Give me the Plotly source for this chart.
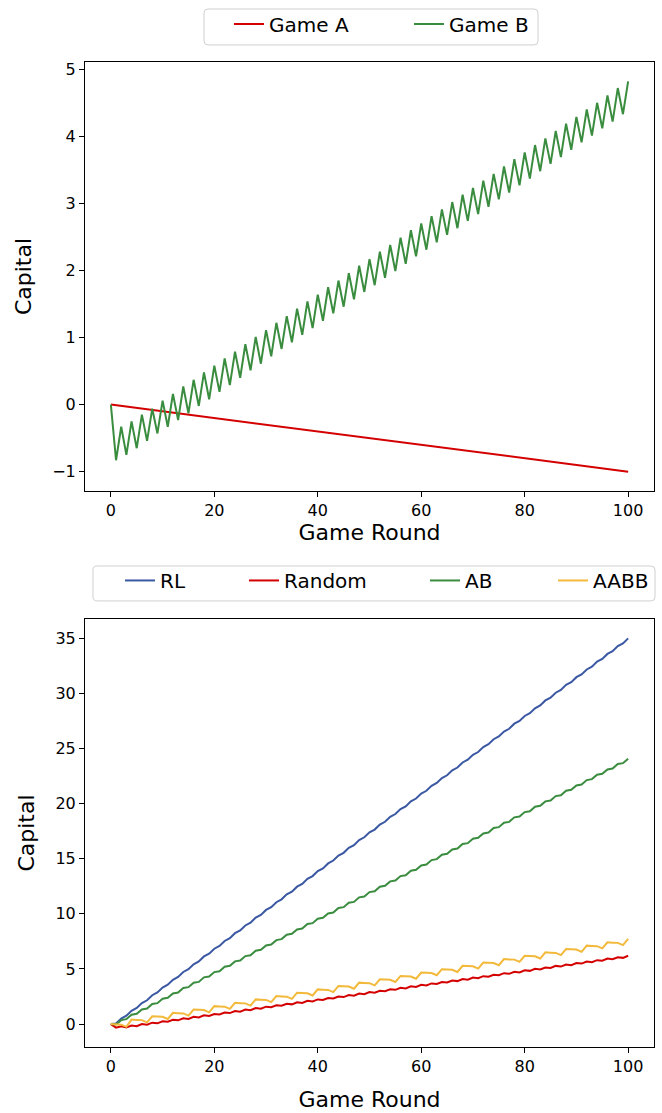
import plotly.graph_objects as go

rounds = list(range(101))

game_a = [0.00, -0.01, -0.02, -0.03, -0.04, -0.05, -0.06, -0.07, -0.08, -0.09,
          -0.10, -0.11, -0.12, -0.13, -0.14, -0.15, -0.16, -0.17, -0.18, -0.19,
          -0.20, -0.21, -0.22, -0.23, -0.24, -0.25, -0.26, -0.27, -0.28, -0.29,
          -0.30, -0.31, -0.32, -0.33, -0.34, -0.35, -0.36, -0.37, -0.38, -0.39,
          -0.40, -0.41, -0.42, -0.43, -0.44, -0.45, -0.46, -0.47, -0.48, -0.49,
          -0.50, -0.51, -0.52, -0.53, -0.54, -0.55, -0.56, -0.57, -0.58, -0.59,
          -0.60, -0.61, -0.62, -0.63, -0.64, -0.65, -0.66, -0.67, -0.68, -0.69,
          -0.70, -0.71, -0.72, -0.73, -0.74, -0.75, -0.76, -0.77, -0.78, -0.79,
          -0.80, -0.81, -0.82, -0.83, -0.84, -0.85, -0.86, -0.87, -0.88, -0.89,
          -0.90, -0.91, -0.92, -0.93, -0.94, -0.95, -0.96, -0.97, -0.98, -0.99,
          -1.00]

game_b = [0.00, -0.83, -0.33, -0.75, -0.25, -0.65, -0.15, -0.54, -0.06, -0.43,
          0.06, -0.33, 0.16, -0.23, 0.27, -0.13, 0.37, -0.02, 0.48, 0.08,
          0.58, 0.19, 0.69, 0.29, 0.79, 0.40, 0.90, 0.51, 1.01, 0.61,
          1.11, 0.72, 1.22, 0.83, 1.32, 0.93, 1.43, 1.04, 1.54, 1.14,
          1.64, 1.25, 1.75, 1.36, 1.85, 1.46, 1.96, 1.57, 2.07, 1.68,
          2.17, 1.78, 2.28, 1.89, 2.38, 1.99, 2.49, 2.10, 2.60, 2.21,
          2.70, 2.31, 2.81, 2.42, 2.91, 2.53, 3.02, 2.63, 3.13, 2.74,
          3.23, 2.84, 3.34, 2.95, 3.44, 3.06, 3.55, 3.16, 3.66, 3.27,
          3.76, 3.37, 3.87, 3.48, 3.97, 3.59, 4.08, 3.69, 4.19, 3.80,
          4.29, 3.91, 4.40, 4.01, 4.50, 4.12, 4.61, 4.22, 4.72, 4.33,
          4.82]

rl = [0.00, 0.05, 0.50, 0.76, 1.21, 1.46, 1.91, 2.16, 2.62, 2.87,
      3.32, 3.57, 4.02, 4.28, 4.73, 4.98, 5.43, 5.68, 6.14, 6.39,
      6.84, 7.09, 7.54, 7.80, 8.25, 8.50, 8.95, 9.20, 9.66, 9.91,
      10.36, 10.61, 11.06, 11.32, 11.77, 12.02, 12.47, 12.72, 13.18, 13.43,
      13.88, 14.13, 14.58, 14.84, 15.29, 15.54, 15.99, 16.24, 16.70, 16.95,
      17.40, 17.65, 18.10, 18.36, 18.81, 19.06, 19.51, 19.76, 20.22, 20.47,
      20.92, 21.17, 21.62, 21.88, 22.33, 22.58, 23.03, 23.28, 23.74, 23.99,
      24.44, 24.69, 25.14, 25.40, 25.85, 26.10, 26.55, 26.80, 27.26, 27.51,
      27.96, 28.21, 28.66, 28.92, 29.37, 29.62, 30.07, 30.32, 30.78, 31.03,
      31.48, 31.73, 32.18, 32.44, 32.89, 33.14, 33.59, 33.84, 34.30, 34.55,
      35.00]

random_s = [0.00, -0.32, -0.20, -0.30, -0.14, -0.19, 0.00, -0.06, 0.13, 0.07,
            0.26, 0.21, 0.39, 0.34, 0.52, 0.47, 0.66, 0.60, 0.79, 0.73,
            0.92, 0.87, 1.05, 1.00, 1.18, 1.13, 1.32, 1.26, 1.45, 1.39,
            1.58, 1.53, 1.71, 1.66, 1.84, 1.79, 1.98, 1.92, 2.11, 2.05,
            2.24, 2.19, 2.37, 2.32, 2.50, 2.45, 2.64, 2.58, 2.77, 2.71,
            2.90, 2.85, 3.03, 2.98, 3.16, 3.11, 3.30, 3.24, 3.43, 3.37,
            3.56, 3.51, 3.69, 3.64, 3.82, 3.77, 3.96, 3.90, 4.09, 4.03,
            4.22, 4.17, 4.35, 4.30, 4.48, 4.43, 4.62, 4.56, 4.75, 4.69,
            4.88, 4.83, 5.01, 4.96, 5.14, 5.09, 5.28, 5.22, 5.41, 5.35,
            5.54, 5.49, 5.67, 5.62, 5.80, 5.75, 5.94, 5.88, 6.07, 6.01,
            6.20]

ab = [0.00, -0.04, 0.36, 0.45, 0.85, 0.93, 1.33, 1.41, 1.82, 1.90,
      2.30, 2.38, 2.78, 2.87, 3.27, 3.35, 3.75, 3.83, 4.24, 4.32,
      4.72, 4.80, 5.20, 5.29, 5.69, 5.77, 6.17, 6.25, 6.66, 6.74,
      7.14, 7.22, 7.62, 7.71, 8.11, 8.19, 8.59, 8.67, 9.08, 9.16,
      9.56, 9.64, 10.04, 10.13, 10.53, 10.61, 11.01, 11.09, 11.50, 11.58,
      11.98, 12.06, 12.46, 12.55, 12.95, 13.03, 13.43, 13.51, 13.92, 14.00,
      14.40, 14.48, 14.88, 14.97, 15.37, 15.45, 15.85, 15.93, 16.34, 16.42,
      16.82, 16.90, 17.30, 17.39, 17.79, 17.87, 18.27, 18.35, 18.76, 18.84,
      19.24, 19.32, 19.72, 19.81, 20.21, 20.29, 20.69, 20.77, 21.18, 21.26,
      21.66, 21.74, 22.14, 22.23, 22.63, 22.71, 23.11, 23.19, 23.60, 23.68,
      24.08]

aabb = [0.00, -0.03, -0.05, -0.25, 0.41, 0.38, 0.36, 0.16, 0.71, 0.68,
        0.66, 0.46, 1.02, 0.99, 0.97, 0.77, 1.32, 1.29, 1.27, 1.07,
        1.63, 1.60, 1.58, 1.38, 1.93, 1.90, 1.88, 1.68, 2.24, 2.21,
        2.19, 1.99, 2.54, 2.51, 2.49, 2.29, 2.85, 2.82, 2.80, 2.60,
        3.15, 3.12, 3.10, 2.90, 3.46, 3.43, 3.41, 3.21, 3.76, 3.73,
        3.71, 3.51, 4.07, 4.04, 4.02, 3.82, 4.37, 4.34, 4.32, 4.12,
        4.68, 4.65, 4.63, 4.43, 4.98, 4.95, 4.93, 4.73, 5.29, 5.26,
        5.24, 5.04, 5.59, 5.56, 5.54, 5.34, 5.90, 5.87, 5.85, 5.65,
        6.20, 6.17, 6.15, 5.95, 6.51, 6.48, 6.46, 6.26, 6.81, 6.78,
        6.76, 6.56, 7.12, 7.09, 7.07, 6.87, 7.42, 7.39, 7.37, 7.17,
        7.73]

top_x_ticks = [0, 20, 40, 60, 80, 100]
top_y_ticks = [-1, 0, 1, 2, 3, 4, 5]
bot_y_ticks = [0, 5, 10, 15, 20, 25, 30, 35]

RED = "#d40000"
GREEN = "#3a8c3f"
BLUE = "#3b58a3"
YELLOW = "#f2b93b"

W, H = 662, 1113
FONT = "DejaVu Sans"
LEG_FONT = 20

fig = go.Figure()


def add(x, y, name, color, xa, ya, legend):
    fig.add_trace(go.Scatter(
        x=x, y=y, name=name, mode="lines",
        line=dict(color=color, width=2),
        xaxis=xa, yaxis=ya, legend=legend,
    ))


add(rounds, game_a, "Game A", RED, "x", "y", "legend")
add(rounds, game_b, "Game B", GREEN, "x", "y", "legend2")
add(rounds, rl, "RL", BLUE, "x2", "y2", "legend3")
add(rounds, random_s, "Random", RED, "x2", "y2", "legend4")
add(rounds, ab, "AB", GREEN, "x2", "y2", "legend5")
add(rounds, aabb, "AABB", YELLOW, "x2", "y2", "legend6")

x_dom = [85 / W, 654 / W]
top_dom = [(H - 490) / H, (H - 60) / H]
bot_dom = [(H - 1047) / H, (H - 618) / H]

axis_common = dict(
    showline=True, linecolor="black", linewidth=1, mirror=True,
    ticks="outside", ticklen=5, tickwidth=1, tickcolor="black",
    showgrid=False, zeroline=False,
    tickfont=dict(family=FONT, size=16, color="black"),
)


def leg(px, py):
    return dict(
        orientation="h", x=px / W, xanchor="left", y=(H - py) / H, yanchor="middle",
        bgcolor="rgba(0,0,0,0)", borderwidth=0,
        font=dict(family=FONT, size=LEG_FONT, color="black"),
    )


def rounded_box(x0, y0, x1, y1, r=4):
    def P(px, py):
        return f"{px / W:.6f},{(H - py) / H:.6f}"
    return (f"M {P(x0 + r, y0)} L {P(x1 - r, y0)} Q {P(x1, y0)} {P(x1, y0 + r)} "
            f"L {P(x1, y1 - r)} Q {P(x1, y1)} {P(x1 - r, y1)} "
            f"L {P(x0 + r, y1)} Q {P(x0, y1)} {P(x0, y1 - r)} "
            f"L {P(x0, y0 + r)} Q {P(x0, y0)} {P(x0 + r, y0)} Z")


shapes = [
    dict(type="path", xref="paper", yref="paper", path=rounded_box(204, 7, 538, 43),
         line=dict(color="#d0d0d0", width=1), fillcolor="white", layer="below"),
    dict(type="path", xref="paper", yref="paper", path=rounded_box(93, 565, 655, 600),
         line=dict(color="#d0d0d0", width=1), fillcolor="white", layer="below"),
]

fig.update_layout(
    width=W, height=H,
    margin=dict(l=0, r=0, t=0, b=0),
    paper_bgcolor="white", plot_bgcolor="white",
    font=dict(family=FONT, color="black"),
    showlegend=True,
    shapes=shapes,
    xaxis=dict(domain=x_dom, anchor="y", range=[-5, 105], tickvals=top_x_ticks,
               title=dict(text="Game Round", font=dict(family=FONT, size=22), standoff=5),
               **axis_common),
    yaxis=dict(domain=top_dom, anchor="x", range=[-1.29, 5.11], tickvals=top_y_ticks,
               title=dict(text="Capital", font=dict(family=FONT, size=22), standoff=14),
               **axis_common),
    xaxis2=dict(domain=x_dom, anchor="y2", range=[-5, 105], tickvals=top_x_ticks,
                title=dict(text="Game Round", font=dict(family=FONT, size=22), standoff=16),
                **axis_common),
    yaxis2=dict(domain=bot_dom, anchor="x2", range=[-2.09, 36.77], tickvals=bot_y_ticks,
                title=dict(text="Capital", font=dict(family=FONT, size=22), standoff=14),
                **axis_common),
    legend=leg(269 - 40, 22),
    legend2=leg(449 - 40, 22),
    legend3=leg(160 - 40, 579.5),
    legend4=leg(284 - 40, 579.5),
    legend5=leg(465 - 40, 579.5),
    legend6=leg(593 - 40, 579.5),
)

fig.write_html("out.html")
